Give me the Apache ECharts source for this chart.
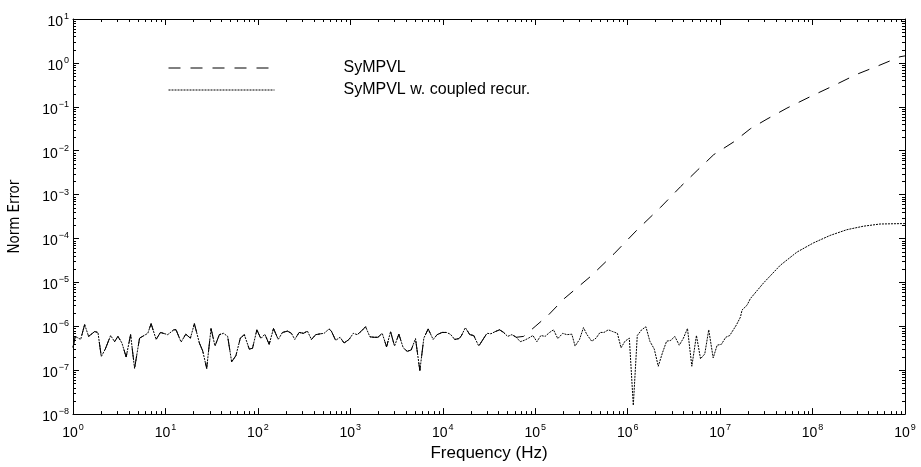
<!DOCTYPE html>
<html><head><meta charset="utf-8">
<script src="https://cdn.jsdelivr.net/npm/echarts@6/dist/echarts.min.js"></script>
<style>html,body{margin:0;padding:0;background:#fff}#c{width:921px;height:467px}</style>
</head><body><div id="c"></div>
<script>
// Axis decades (exponents of ten)
const xTickExp = [0, 1, 2, 3, 4, 5, 6, 7, 8, 9];
const yTickExp = [-8, -7, -6, -5, -4, -3, -2, -1, 0, 1];
const minorMult = [2, 3, 4, 5, 6, 7, 8, 9];
const seriesNames = ['SyMPVL', 'SyMPVL w. coupled recur.'];

// log10(frequency in Hz) and log10(norm error)
// Region where both methods coincide (1 Hz .. ~6e4 Hz)
const sharedLogF = [0, 0.025, 0.083, 0.126, 0.169, 0.234, 0.270, 0.306, 0.349, 0.407, 0.450, 0.486, 0.529, 0.575, 0.623, 0.666, 0.720, 0.809, 0.845, 0.899, 0.946, 1.025, 1.090, 1.115, 1.169, 1.220, 1.270, 1.313, 1.367, 1.403, 1.446, 1.493, 1.536, 1.583, 1.629, 1.673, 1.716, 1.762, 1.810, 1.853, 1.907, 1.942, 1.989, 2.032, 2.075, 2.122, 2.169, 2.220, 2.266, 2.320, 2.363, 2.399, 2.446, 2.493, 2.536, 2.579, 2.626, 2.680, 2.716, 2.770, 2.795, 2.841, 2.889, 2.932, 2.986, 3.032, 3.075, 3.119, 3.165, 3.212, 3.256, 3.299, 3.345, 3.392, 3.435, 3.478, 3.525, 3.572, 3.615, 3.658, 3.705, 3.752, 3.795, 3.842, 3.896, 3.939, 3.993, 4.039, 4.082, 4.130, 4.173, 4.198, 4.244, 4.292, 4.335, 4.389, 4.435, 4.478, 4.521, 4.568, 4.615, 4.658, 4.702, 4.748, 4.795];
const sharedLogErr = [-6.48, -6.23, -6.30, -5.96, -6.23, -6.12, -6.14, -6.69, -6.52, -6.21, -6.35, -6.23, -6.38, -6.70, -6.19, -6.96, -6.27, -6.16, -5.94, -6.30, -6.14, -6.19, -6.08, -6.08, -6.36, -6.18, -6.27, -5.94, -6.38, -6.56, -6.96, -6.05, -6.45, -6.19, -6.16, -6.23, -6.81, -6.67, -6.27, -6.19, -6.52, -6.50, -6.08, -6.28, -6.18, -6.41, -6.05, -6.30, -6.14, -6.11, -6.16, -6.30, -6.14, -6.16, -6.11, -6.30, -6.19, -6.17, -6.16, -6.06, -6.11, -6.32, -6.25, -6.38, -6.30, -6.16, -6.19, -6.11, -6.01, -6.24, -6.25, -6.25, -6.16, -6.47, -6.12, -6.45, -6.18, -6.49, -6.57, -6.54, -6.28, -7.01, -6.27, -6.06, -6.30, -6.19, -6.14, -6.14, -6.18, -6.30, -6.28, -6.23, -6.03, -6.19, -6.21, -6.45, -6.30, -6.16, -6.17, -6.12, -6.08, -6.14, -6.23, -6.19, -6.25];

// SyMPVL (dashed) beyond the shared region
const sympvlTailLogF = [4.874, 5.007, 5.144, 5.313, 5.601, 5.852, 6.104, 6.356, 6.572, 6.752, 6.931, 7.147, 7.327, 7.507, 7.723, 7.974, 8.226, 8.478, 8.694, 8.946, 9.0];
const sympvlTailLogErr = [-6.23, -5.99, -5.74, -5.37, -4.86, -4.35, -3.80, -3.29, -2.82, -2.45, -2.09, -1.80, -1.50, -1.28, -1.03, -0.77, -0.52, -0.26, -0.08, 0.14, 0.16];

// SyMPVL w. coupled recursion (dotted) beyond the shared region
const coupledTailLogF = [4.838, 4.881, 4.928, 4.975, 5.018, 5.061, 5.107, 5.155, 5.198, 5.244, 5.298, 5.341, 5.396, 5.431, 5.479, 5.522, 5.557, 5.611, 5.658, 5.701, 5.744, 5.791, 5.838, 5.889, 5.928, 5.971, 6.018, 6.061, 6.104, 6.151, 6.197, 6.240, 6.288, 6.331, 6.377, 6.421, 6.467, 6.510, 6.558, 6.601, 6.647, 6.694, 6.744, 6.788, 6.834, 6.877, 6.925, 6.968, 7.014, 7.061, 7.104, 7.176, 7.220, 7.237, 7.291, 7.327, 7.471, 7.651, 7.831, 8.010, 8.190, 8.370, 8.550, 8.730, 8.980, 9.0];
const coupledTailLogErr = [-6.35, -6.32, -6.27, -6.21, -6.35, -6.21, -6.23, -6.14, -6.08, -6.28, -6.16, -6.19, -6.18, -6.45, -6.30, -6.03, -6.18, -6.34, -6.27, -6.14, -6.14, -6.08, -6.12, -6.16, -6.49, -6.34, -6.27, -7.80, -6.21, -6.08, -6.01, -6.34, -6.52, -6.91, -6.60, -6.34, -6.32, -6.23, -6.43, -6.28, -6.05, -6.91, -6.21, -6.74, -6.63, -6.08, -6.72, -6.43, -6.41, -6.25, -6.21, -5.97, -5.79, -5.63, -5.52, -5.37, -5.01, -4.61, -4.31, -4.10, -3.93, -3.80, -3.72, -3.67, -3.66, -3.66];

function pairs(xs, ys) { return xs.map((x, i) => [x, ys[i]]); }
const sympvlData = pairs(sharedLogF, sharedLogErr).concat(pairs(sympvlTailLogF, sympvlTailLogErr));
const coupledData = pairs(sharedLogF, sharedLogErr).concat(pairs(coupledTailLogF, coupledTailLogErr));

// minor tick positions (log10 of 2..9 times each decade)
const xMinor = [];
xTickExp.slice(0, -1).forEach(d => minorMult.forEach(m => xMinor.push([d + Math.log10(m), yTickExp[0]])));
const yMinor = [];
yTickExp.slice(0, -1).forEach(d => minorMult.forEach(m => yMinor.push([xTickExp[0], d + Math.log10(m)])));

const FONT = '"Liberation Sans", Arial, Helvetica, sans-serif';
function powLabel(v) {
  const e = v < 0 ? '\u2212' + (-v) : String(v);
  return '{b|10}{s|' + e + '}';
}
const rich = {
  b: { fontSize: 14, fontFamily: FONT, color: '#000', verticalAlign: 'bottom', lineHeight: 20 },
  s: { fontSize: 9, fontFamily: FONT, color: '#000', verticalAlign: 'bottom', lineHeight: 20, padding: [0, 0, 8, 1] }
};
const axisCommon = {
  type: 'value', splitLine: { show: false },
  axisLine: { show: true, onZero: false, lineStyle: { color: '#000', width: 1 } },
  axisTick: { show: true, inside: true, length: 6, lineStyle: { color: '#000', width: 1 } }
};

const chart = echarts.init(document.getElementById('c'), null, { renderer: 'canvas' });
chart.setOption({
  animation: false,
  backgroundColor: '#fff',
  grid: { left: 71, right: 16, top: 19, bottom: 37, containLabel: false },
  legend: {
    orient: 'vertical', left: 163, top: 55, itemWidth: 106, itemHeight: 11, itemGap: 6,
    data: seriesNames.map(n => ({ name: n, itemStyle: { opacity: 0, color: 'rgba(0,0,0,0)', borderWidth: 0 } })),
    itemStyle: { opacity: 0, color: 'rgba(0,0,0,0)', borderWidth: 0 },
    lineStyle: { width: 1 },
    textStyle: { fontFamily: FONT, fontSize: 16, color: '#000', padding: [0, 0, 0, 64] },
    selectedMode: false
  },
  xAxis: [
    Object.assign({}, axisCommon, {
      min: xTickExp[0], max: xTickExp[xTickExp.length - 1], interval: 1, position: 'bottom',
      axisLabel: { margin: 6, formatter: powLabel, rich: rich },
      name: 'Frequency (Hz)', nameLocation: 'middle', nameGap: 21,
      nameTextStyle: { fontFamily: FONT, fontSize: 17, color: '#000' }
    }),
    Object.assign({}, axisCommon, {
      min: xTickExp[0], max: xTickExp[xTickExp.length - 1], interval: 1, position: 'top',
      axisLabel: { show: false }
    })
  ],
  yAxis: [
    Object.assign({}, axisCommon, {
      min: yTickExp[0], max: yTickExp[yTickExp.length - 1], interval: 1, position: 'left',
      axisLabel: { margin: 4, formatter: powLabel, rich: rich },
      name: 'Norm Error', nameLocation: 'middle', nameGap: 50, nameRotate: 90,
      nameTextStyle: { fontFamily: '"Liberation Sans Narrow", "DejaVu Sans Condensed", ' + FONT, fontSize: 15, color: '#000' }
    }),
    Object.assign({}, axisCommon, {
      min: yTickExp[0], max: yTickExp[yTickExp.length - 1], interval: 1, position: 'right',
      axisLabel: { show: false }
    })
  ],
  series: [
    {
      name: seriesNames[0], type: 'line', data: sympvlData, symbol: 'none', showSymbol: false,
      lineStyle: { color: '#000', width: 1, type: [12, 10] }, itemStyle: { color: '#000' }, z: 3
    },
    {
      name: seriesNames[1], type: 'line', data: coupledData, symbol: 'none', showSymbol: false,
      lineStyle: { color: '#000', width: 1, type: [2, 1] }, itemStyle: { color: '#000' }, z: 4
    },
    {
      type: 'custom', name: 'xminor', data: xMinor, silent: true, z: 5,
      renderItem: function (params, api) {
        const p = api.coord([api.value(0), api.value(1)]);
        const cs = params.coordSys;
        const x = Math.round(p[0]) + 0.5;
        return { type: 'group', children: [
          { type: 'line', shape: { x1: x, y1: cs.y + cs.height, x2: x, y2: cs.y + cs.height - 3 }, style: { stroke: '#000', lineWidth: 1 } },
          { type: 'line', shape: { x1: x, y1: cs.y, x2: x, y2: cs.y + 3 }, style: { stroke: '#000', lineWidth: 1 } }
        ] };
      }
    },
    {
      type: 'custom', name: 'yminor', data: yMinor, silent: true, z: 5,
      renderItem: function (params, api) {
        const p = api.coord([api.value(0), api.value(1)]);
        const cs = params.coordSys;
        const y = Math.round(p[1]) + 0.5;
        return { type: 'group', children: [
          { type: 'line', shape: { x1: cs.x, y1: y, x2: cs.x + 3, y2: y }, style: { stroke: '#000', lineWidth: 1 } },
          { type: 'line', shape: { x1: cs.x + cs.width, y1: y, x2: cs.x + cs.width - 3, y2: y }, style: { stroke: '#000', lineWidth: 1 } }
        ] };
      }
    }
  ]
});
</script>
</body></html>
